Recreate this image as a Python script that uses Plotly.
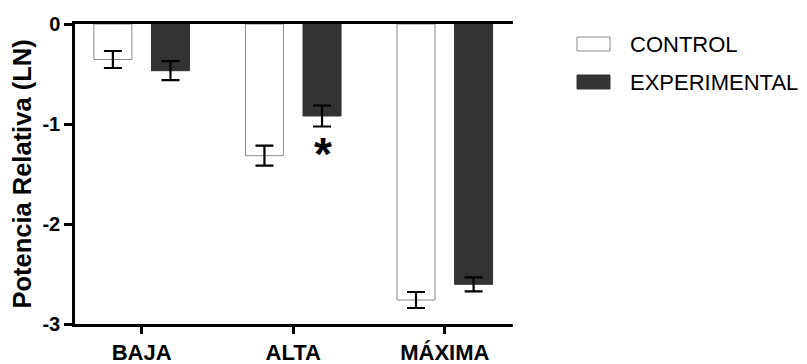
import plotly.graph_objects as go

categories = ["BAJA", "ALTA", "MÁXIMA"]
control = [-0.355, -1.317, -2.76]
control_err = [0.085, 0.10, 0.08]
experimental = [-0.467, -0.92, -2.603]
experimental_err = [0.095, 0.105, 0.07]
signif = ["", "*", ""]

FONT = "Liberation Sans, Arial, sans-serif"

fig = go.Figure()
fig.add_trace(go.Bar(
    x=categories, y=control, name="CONTROL",
    marker=dict(color="white", line=dict(color="#8a8a8a", width=1)),
    error_y=dict(type="data", array=control_err, color="black", thickness=2.2, width=9),
))
fig.add_trace(go.Bar(
    x=categories, y=experimental, name="EXPERIMENTAL",
    marker=dict(color="#333333", line=dict(color="#333333", width=1)),
    error_y=dict(type="data", array=experimental_err, color="black", thickness=2.2, width=9),
))

# significance marks under the experimental bars
for cat, v, e, s in zip(categories, experimental, experimental_err, signif):
    if s:
        fig.add_annotation(x=cat, y=v - e, text="<b>" + s + "</b>", showarrow=False,
                           xshift=30, yanchor="top", yshift=1,
                           font=dict(family=FONT, size=46, color="black"))

# legend drawn by hand so the swatches match the original proportions
legend = [("CONTROL", "white", "#8a8a8a"), ("EXPERIMENTAL", "#333333", "#333333")]
for i, (name, fill, edge) in enumerate(legend):
    yc = 44 + i * 38
    fig.add_shape(type="rect", xref="paper", yref="paper",
                  x0=(577 - 75) / 438, x1=(610 - 75) / 438,
                  y0=(324 - yc - 7) / 300, y1=(324 - yc + 7) / 300,
                  fillcolor=fill, line=dict(color=edge, width=1))
    fig.add_annotation(xref="paper", yref="paper", x=(628 - 75) / 438, y=(324 - yc) / 300,
                       text=name, showarrow=False, xanchor="left", yanchor="middle",
                       font=dict(family=FONT, size=22, color="black"))

# page body adds an 8px offset, so the figure is 8px smaller than the window
fig.update_layout(
    width=799, height=356,
    margin=dict(l=67, r=294, t=16, b=40),
    plot_bgcolor="white", paper_bgcolor="white",
    barmode="group", bargap=0.24, bargroupgap=0.34,
    showlegend=False,
    font=dict(family=FONT, color="black"),
)
fig.update_xaxes(
    range=[-0.44, 2.45], showline=True, linecolor="black", linewidth=2.5, mirror=True,
    ticks="outside", ticklen=7, tickwidth=2.5, tickcolor="black",
    tickfont=dict(family=FONT, size=22, weight="bold"),
    showgrid=False, zeroline=False, automargin=False,
)
fig.update_yaxes(
    range=[-3, 0], tickvals=[0, -1, -2, -3], ticktext=["0", "-1", "-2", "-3"],
    showline=True, linecolor="black", linewidth=2.5,
    ticks="outside", ticklen=8, tickwidth=2.5, tickcolor="black",
    tickfont=dict(family=FONT, size=20, weight="bold"),
    title=dict(text="Potencia Relativa (LN)", standoff=7,
               font=dict(family=FONT, size=25.5, weight="bold")),
    showgrid=False, zeroline=False, automargin=False,
)

fig.write_html("out.html")
